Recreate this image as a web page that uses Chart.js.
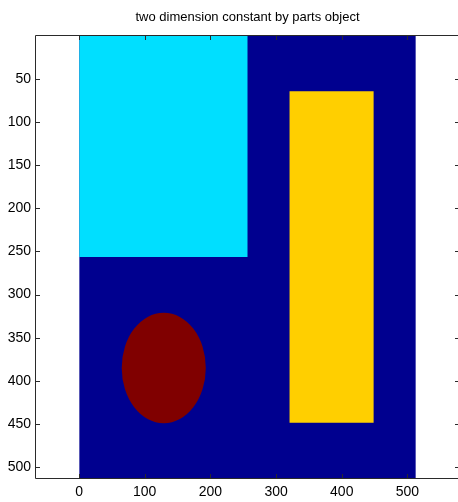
<!DOCTYPE html>
<html>
<head>
<meta charset="utf-8">
<script src="https://cdn.jsdelivr.net/npm/chart.js@4/dist/chart.umd.min.js"></script>
<style>
  html, body { margin: 0; padding: 0; background: #fff; width: 458px; height: 502px; overflow: hidden; }
  #wrap { width: 462px; height: 502px; }
</style>
</head>
<body>
<div id="wrap"><canvas id="chart" width="462" height="502"></canvas></div>
<script>
// Axis ticks and limits (matrix column / row indices)
const xTickValues = [0, 100, 200, 300, 400, 500];
const yTickValues = [50, 100, 150, 200, 250, 300, 350, 400, 450, 500];
const xLimits = [-65.5, 578.5];
const yLimits = [0.5, 512.5];

// Constant-valued rectangular parts of the 512 x 512 matrix: [first, last] index
const blockNames = ['ground', 'square', 'bar'];
const blockCols = [[1, 512], [1, 256], [321, 448]];
const blockRows = [[1, 512], [1, 256], [65, 448]];
const blockColors = ['#00008f', '#00dfff', '#ffcf00'];

// Round part: centre (column, row) and radius
const discCenter = [129, 385];
const discRadius = 64;
const discColor = '#800000';

const tickFont = { family: "'Liberation Sans Narrow', 'Liberation Sans', Arial, sans-serif", size: 14 };

const partsPlugin = {
  id: 'parts',
  beforeDatasetsDraw(chart) {
    const { ctx, chartArea: a, scales: { x, y } } = chart;
    ctx.save();
    ctx.beginPath();
    ctx.rect(a.left, a.top, a.right - a.left, a.bottom - a.top);
    ctx.clip();
    blockNames.forEach((name, i) => {
      const x0 = x.getPixelForValue(blockCols[i][0] - 0.5);
      const x1 = x.getPixelForValue(blockCols[i][1] + 0.5);
      const y0 = y.getPixelForValue(blockRows[i][0] - 0.5);
      const y1 = y.getPixelForValue(blockRows[i][1] + 0.5);
      ctx.fillStyle = blockColors[i];
      ctx.fillRect(Math.min(x0, x1), Math.min(y0, y1), Math.abs(x1 - x0), Math.abs(y1 - y0));
    });
    const cx = x.getPixelForValue(discCenter[0]);
    const cy = y.getPixelForValue(discCenter[1]);
    const rx = Math.abs(x.getPixelForValue(discCenter[0] + discRadius) - cx);
    const ry = Math.abs(y.getPixelForValue(discCenter[1] + discRadius) - cy);
    ctx.beginPath();
    ctx.ellipse(cx, cy, rx, ry, 0, 0, Math.PI * 2);
    ctx.fillStyle = discColor;
    ctx.fill();
    ctx.restore();
  },
  afterDraw(chart) {
    // axes box with inward tick marks on all four sides
    const { ctx, chartArea: a, scales: { x, y } } = chart;
    const len = 4;
    ctx.save();
    ctx.strokeStyle = '#2a2a2a';
    ctx.lineWidth = 1;
    ctx.beginPath();
    ctx.rect(Math.round(a.left) - 0.5, Math.round(a.top) - 0.5, Math.round(a.right - a.left) + 1, Math.round(a.bottom - a.top) + 1);
    ctx.stroke();
    ctx.beginPath();
    xTickValues.forEach(v => {
      const px = Math.round(x.getPixelForValue(v)) + 0.5;
      ctx.moveTo(px, a.top); ctx.lineTo(px, a.top + len);
      ctx.moveTo(px, a.bottom); ctx.lineTo(px, a.bottom - len);
    });
    yTickValues.forEach(v => {
      const py = Math.round(y.getPixelForValue(v)) + 0.5;
      ctx.moveTo(a.left, py); ctx.lineTo(a.left + len, py);
      ctx.moveTo(a.right, py); ctx.lineTo(a.right - len, py);
    });
    ctx.stroke();
    ctx.restore();
  }
};

new Chart(document.getElementById('chart'), {
  type: 'scatter',
  data: { datasets: [{ label: 'parts', data: [] }] },
  plugins: [partsPlugin],
  options: {
    responsive: false,
    animation: false,
    layout: { padding: { left: 0, right: 3, top: 0, bottom: 0 } },
    plugins: {
      legend: { display: false },
      tooltip: { enabled: false },
      title: {
        display: true,
        text: 'two dimension constant by parts object',
        fullSize: false,
        color: '#000',
        font: { family: "'Liberation Sans', Arial, sans-serif", size: 13, weight: 'normal' },
        padding: { top: 10, bottom: 10.4 }
      }
    },
    scales: {
      x: {
        type: 'linear',
        min: xLimits[0],
        max: xLimits[1],
        grid: { display: false, drawTicks: false },
        border: { display: false },
        ticks: { color: '#000', font: tickFont, padding: 6, maxRotation: 0 },
        afterBuildTicks(scale) { scale.ticks = xTickValues.map(v => ({ value: v })); },
        afterFit(scale) { scale.height = 24; }
      },
      y: {
        type: 'linear',
        reverse: true,
        min: yLimits[0],
        max: yLimits[1],
        grid: { display: false, drawTicks: false },
        border: { display: false },
        ticks: { color: '#000', font: tickFont, padding: 5 },
        afterBuildTicks(scale) { scale.ticks = yTickValues.map(v => ({ value: v })); },
        afterFit(scale) { scale.width = 36; }
      }
    }
  }
});
</script>
</body>
</html>
